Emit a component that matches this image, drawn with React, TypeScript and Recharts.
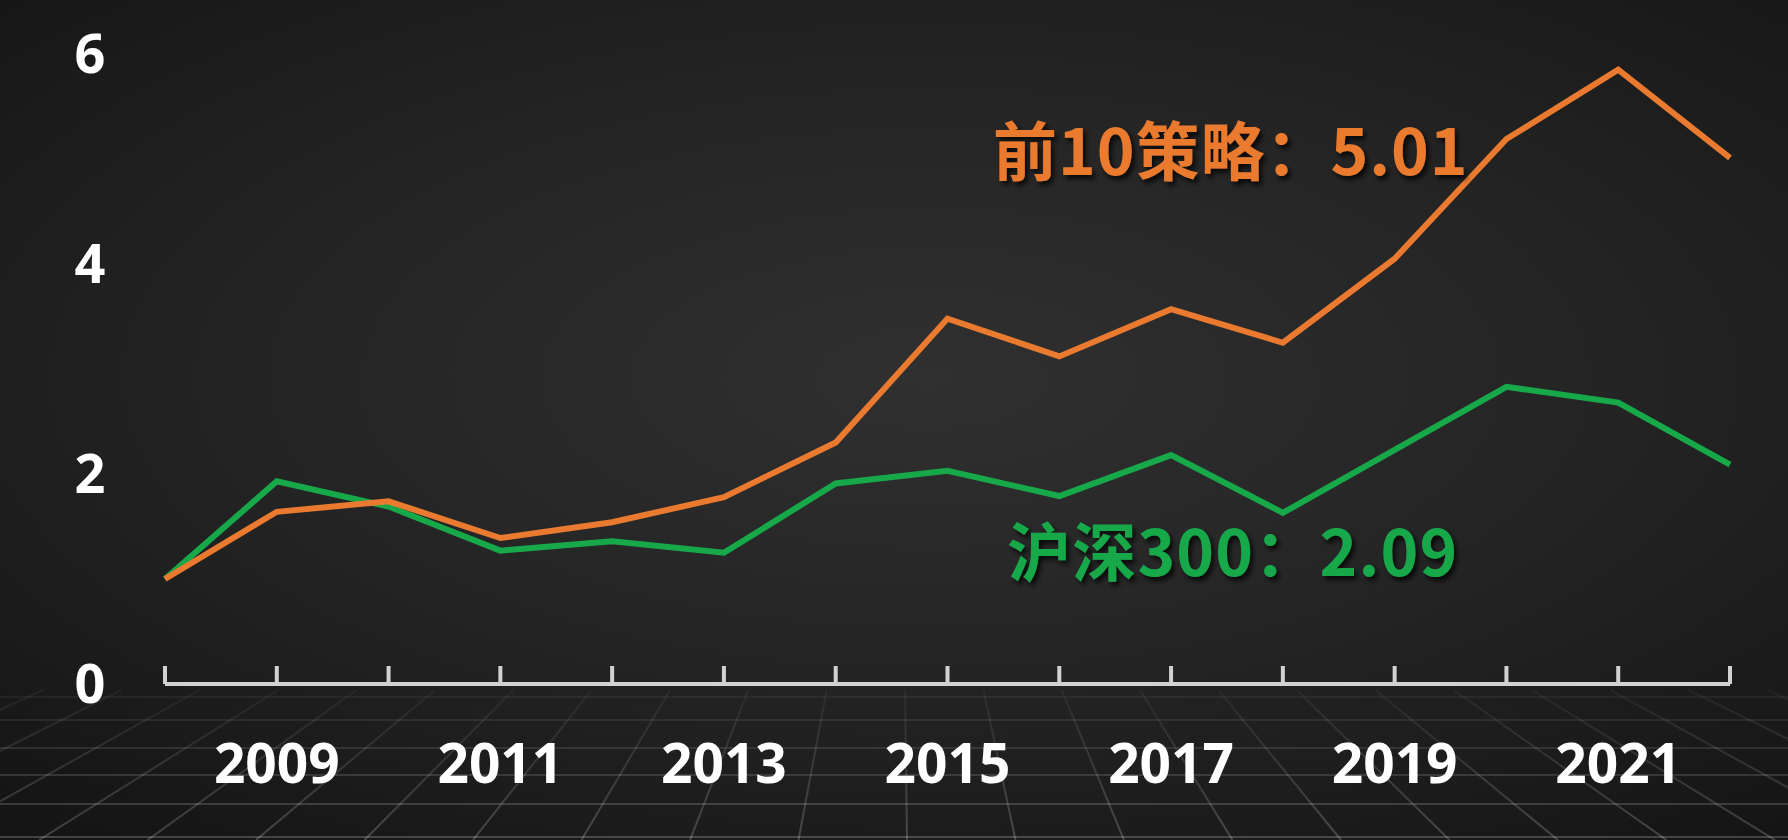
import React from 'react';
import { LineChart, Line, XAxis, YAxis } from 'recharts';

const years = ['2008', '2009', '2010', '2011', '2012', '2013', '2014', '2015', '2016', '2017', '2018', '2019', '2020', '2021', '2022'];
const top10 = [1.0, 1.64, 1.74, 1.39, 1.54, 1.78, 2.3, 3.48, 3.12, 3.57, 3.25, 4.05, 5.19, 5.85, 5.01];
const hs300 = [1.0, 1.93, 1.69, 1.27, 1.36, 1.25, 1.91, 2.03, 1.79, 2.18, 1.63, 2.23, 2.83, 2.68, 2.09];
const yTicks = [0, 2, 4, 6];

const ORANGE = '#E97A2F';
const GREEN = '#17A84A';
const AXIS = '#d2d2d2';
const FONT = '"Open Sans", "Noto Sans", sans-serif';

const data = years.map((y, i) => ({ year: y, top10: top10[i], hs300: hs300[i] }));

const XTick = (props: any) => {
  const { x, y, payload, index } = props;
  return (
    <g>
      <line x1={x} y1={y} x2={x} y2={y - 18} stroke={AXIS} strokeWidth={4} />
      {index % 2 === 1 && (
        <text x={x} y={y + 79} dy="0.36em" textAnchor="middle" fill="#fff" fontSize={55} fontWeight={700} fontFamily={FONT}>
          {payload.value}
        </text>
      )}
    </g>
  );
};

const YTick = (props: any) => {
  const { y, payload } = props;
  return (
    <text x={90} y={y} dy="0.36em" textAnchor="middle" fill="#fff" fontSize={54} fontWeight={700} fontFamily={FONT}>
      {payload.value}
    </text>
  );
};

// perspective floor behind the x labels
const Floor = () => {
  const vx = 900;
  const vy = 300;
  const rows = [697, 720, 748, 775, 804, 837];
  const cols: number[] = [];
  for (let k = -12; k <= 12; k++) cols.push(907 + k * 108.5);
  return (
    <svg width={1788} height={840} style={{ position: 'absolute', left: 0, top: 0 }}>
      <defs>
        <linearGradient id="fade" x1="0" y1="690" x2="0" y2="840" gradientUnits="userSpaceOnUse">
          <stop offset="0" stopColor="#fff" stopOpacity={0.04} />
          <stop offset="1" stopColor="#fff" stopOpacity={0.2} />
        </linearGradient>
      </defs>
      {rows.map((r) => (
        <line key={'r' + r} x1={0} x2={1788} y1={r} y2={r} stroke="url(#fade)" strokeWidth={2} />
      ))}
      {cols.map((c) => {
        const t = (690 - vy) / (840 - vy);
        return (
          <line key={'c' + c} x1={c} y1={840} x2={vx + (c - vx) * t} y2={690} stroke="url(#fade)" strokeWidth={2} />
        );
      })}
    </svg>
  );
};

export default function App() {
  return (
    <div
      style={{
        position: 'fixed',
        left: 0,
        top: 0,
        width: 1788,
        height: 840,
        overflow: 'hidden',
        background: 'radial-gradient(ellipse 75% 70% at 52% 45%, #303030 0%, #242424 50%, #151515 100%)',
      }}
    >
      <Floor />
      <div style={{ position: 'absolute', left: 0, top: 0 }}>
        <LineChart width={1788} height={840} data={data} margin={{ top: 54, right: 58, bottom: 0, left: 0 }}>
          <XAxis
            dataKey="year"
            interval={0}
            height={156}
            tickSize={0}
            tickMargin={0}
            tickLine={false}
            axisLine={{ stroke: AXIS, strokeWidth: 4 }}
            tick={<XTick />}
          />
          <YAxis width={165} domain={[0, 6]} ticks={yTicks} axisLine={false} tickLine={false} tick={<YTick />} />
          <Line dataKey="hs300" stroke={GREEN} strokeWidth={6} dot={false} strokeLinejoin="miter" isAnimationActive={false} />
          <Line dataKey="top10" stroke={ORANGE} strokeWidth={6} dot={false} strokeLinejoin="miter" isAnimationActive={false} />
        </LineChart>
      </div>
      <svg width={1788} height={840} style={{ position: 'absolute', left: 0, top: 0, pointerEvents: 'none' }}>
        <defs>
          <filter id="sh" x="-10%" y="-30%" width="130%" height="170%">
            <feDropShadow dx={3} dy={4} stdDeviation={2.5} floodColor="#000" floodOpacity={0.75} />
          </filter>
        </defs>
        <text x={993} y={152} dy="0.36em" fill={ORANGE} fontSize={64} fontWeight={700} letterSpacing={1} fontFamily='"Noto Sans CJK SC", sans-serif' filter="url(#sh)">
          前10策略：5.01
        </text>
        <text x={1007} y={553} dy="0.36em" fill={GREEN} fontSize={64} fontWeight={700} letterSpacing={1.2} fontFamily='"Noto Sans CJK SC", sans-serif' filter="url(#sh)">
          沪深300：2.09
        </text>
      </svg>
    </div>
  );
}
